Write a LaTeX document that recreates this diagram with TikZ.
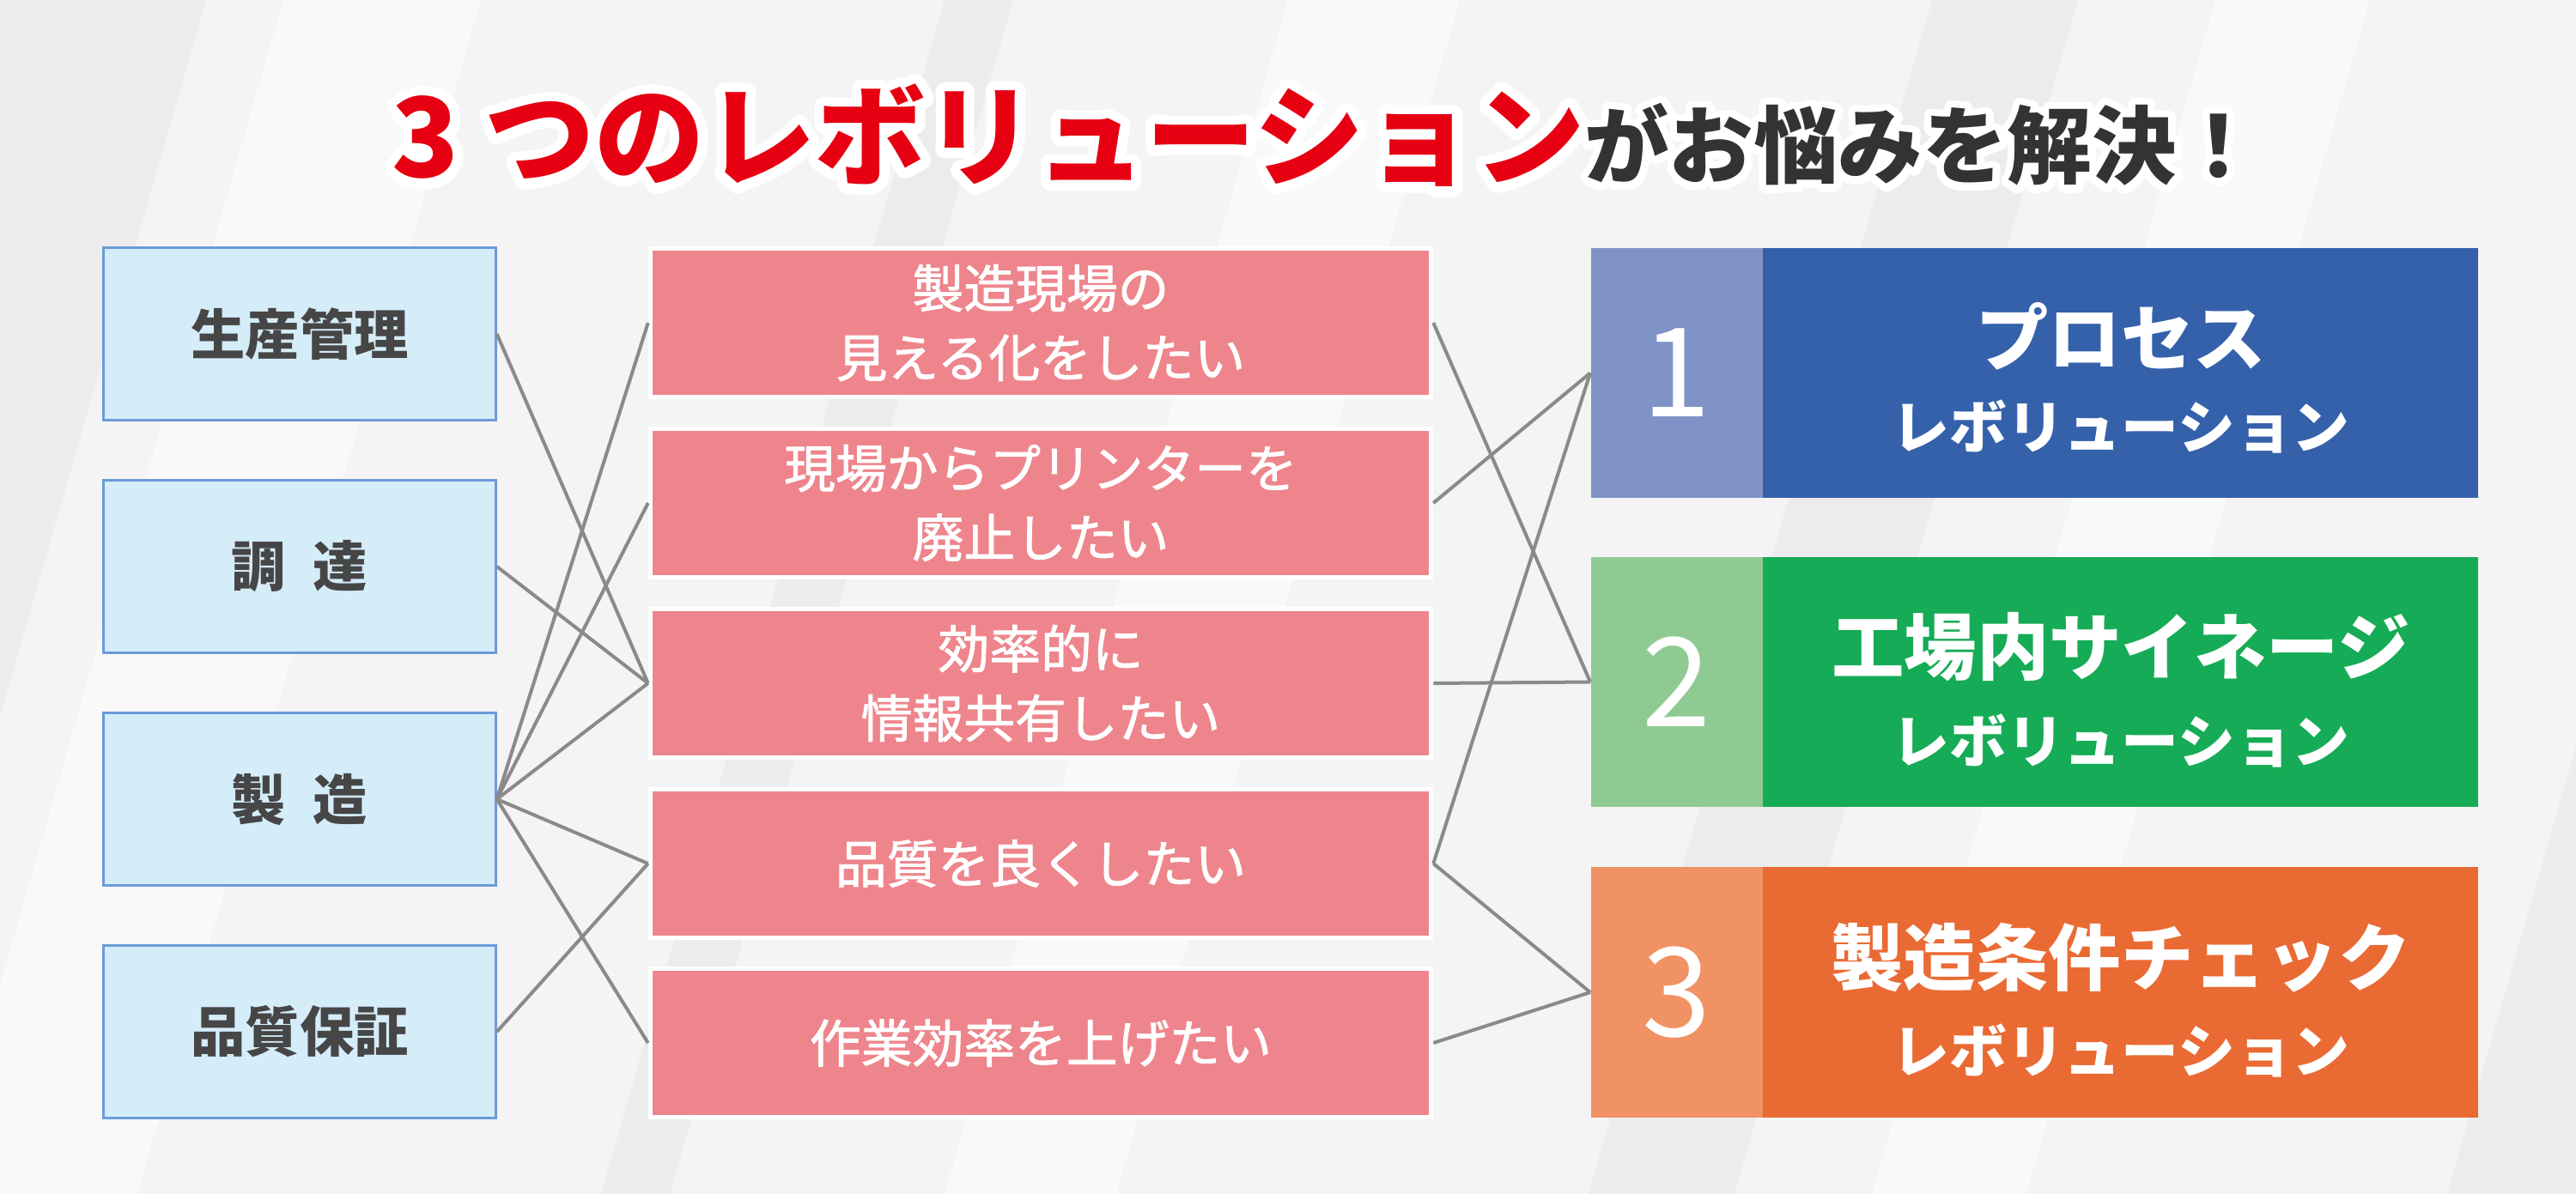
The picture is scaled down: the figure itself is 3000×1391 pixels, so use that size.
\documentclass[tikz,border=0pt]{standalone}
\usepackage{fontspec}
\setmainfont{Noto Sans CJK JP}
\newfontfamily\halofont{Noto Sans CJK JP}[BoldFeatures={FakeBold=18}]
\newfontfamily\wishfont{Noto Sans CJK JP}[FakeBold=1.5]
\usetikzlibrary{positioning}

\definecolor{titlered}{HTML}{E60012}
\definecolor{titledark}{HTML}{333333}
\definecolor{bggray}{HTML}{F4F4F4}
\definecolor{stripelt}{HTML}{F9F9F9}
\definecolor{stripedk}{HTML}{ECECEC}
\definecolor{deptfill}{HTML}{D5ECF9}
\definecolor{deptline}{HTML}{6A9BD8}
\definecolor{depttext}{HTML}{464646}
\definecolor{wishfill}{HTML}{EE858C}
\definecolor{linkgray}{HTML}{8A8A8A}
\definecolor{revblue}{HTML}{3561AB}
\definecolor{revbluelt}{HTML}{7F93C6}
\definecolor{revgreen}{HTML}{16AB56}
\definecolor{revgreenlt}{HTML}{8FCA93}
\definecolor{revorange}{HTML}{EA6A33}
\definecolor{revorangelt}{HTML}{F09263}

\newcommand\bannertext[2]{{\color{#1}3 つのレボリューション}{\color{#2}\fontsize{28pt}{30pt}\selectfont がお悩みを解決！}}

\tikzset{
  dept/.style={draw=deptline, line width=0.03cm, fill=deptfill, inner sep=0,
    minimum width=4.56cm, minimum height=2cm, text=depttext,
    font=\fontsize{18pt}{22pt}\selectfont\bfseries},
  wish/.style={draw=white, line width=0.05cm, fill=wishfill, inner sep=0,
    minimum width=9.09cm, minimum height=1.73cm, text=white, align=center,
    font=\fontsize{17pt}{23pt}\wishfont},
  rev/.style={inner sep=0, minimum width=10.33cm, minimum height=2.91cm},
  revnum/.style={inner sep=0, minimum width=2cm, minimum height=2.91cm,
    anchor=north west, text=white, font=\fontsize{41pt}{41pt}\selectfont},
  revhead/.style={text=white, font=\fontsize{24pt}{26pt}\selectfont\bfseries},
  revsub/.style={text=white, font=\fontsize{19pt}{21pt}\selectfont\bfseries},
  banner/.style={anchor=base, inner sep=0, font=\fontsize{36.5pt}{38pt}\selectfont\bfseries},
  link/.style={draw=linkgray, line width=0.04cm}
}

\begin{document}
\begin{tikzpicture}[x=0.01cm,y=-0.01cm]
\useasboundingbox (0,0) rectangle (3000,1391);

% background
\fill[bggray] (0,0) rectangle (3000,1391);
\fill[stripedk] (0,0) -- (240,0) -- (-160,1391) -- (0,1391) -- cycle;
\fill[stripelt] (330,0) -- (560,0) -- (160,1391) -- (-70,1391) -- cycle;
\fill[stripedk] (1100,0) -- (1180,0) -- (780,1391) -- (700,1391) -- cycle;
\fill[stripelt] (1500,0) -- (1700,0) -- (1300,1391) -- (1100,1391) -- cycle;
\fill[stripedk] (2250,0) -- (2420,0) -- (2020,1391) -- (1850,1391) -- cycle;
\fill[stripelt] (2580,0) -- (2760,0) -- (2360,1391) -- (2180,1391) -- cycle;
\fill[stripedk] (3000,0) -- (3250,0) -- (2850,1391) -- (3000,1391) -- cycle;

% title, white outline first
\node[banner, font=\fontsize{36.5pt}{38pt}\halofont\bfseries] (halo) at (1545,207)
  {\pgfsetroundjoin\bannertext{white}{white}};
\node[banner] (title) at (1545,207) {\bannertext{titlered}{titledark}};

% departments
\node[dept] (d1) at (349,389) {生産管理};
\node[dept] (d2) at (349,660) {調\hspace{0.5em}達};
\node[dept] (d3) at (349,931) {製\hspace{0.5em}造};
\node[dept] (d4) at (349,1202) {品質保証};

% wishes
\node[wish] (w1) at (1212,376) {製造現場の\\見える化をしたい};
\node[wish] (w2) at (1212,586) {現場からプリンターを\\廃止したい};
\node[wish] (w3) at (1212,796) {効率的に\\情報共有したい};
\node[wish] (w4) at (1212,1006) {品質を良くしたい};
\node[wish] (w5) at (1212,1215) {作業効率を上げたい};

% revolutions
\node[rev, fill=revblue] (r1) at (2369.5,434.5) {};
\node[revnum, fill=revbluelt] (n1) at (r1.north west) {1};
\node[revhead] (h1) at (2470,392) {プロセス};
\node[revsub] (s1) at (2470,497) {レボリューション};

\node[rev, fill=revgreen] (r2) at (2369.5,794.5) {};
\node[revnum, fill=revgreenlt] (n2) at (r2.north west) {2};
\node[revhead] (h2) at (2470,754) {工場内サイネージ};
\node[revsub] (s2) at (2470,863) {レボリューション};

\node[rev, fill=revorange] (r3) at (2369.5,1156) {};
\node[revnum, fill=revorangelt] (n3) at (r3.north west) {3};
\node[revhead] (h3) at (2470,1116) {製造条件チェック};
\node[revsub] (s3) at (2470,1224) {レボリューション};

% links left
\draw[link] (d1.east) -- (w3.west);
\draw[link] (d2.east) -- (w3.west);
\draw[link] (d3.east) -- (w1.west);
\draw[link] (d3.east) -- (w2.west);
\draw[link] (d3.east) -- (w3.west);
\draw[link] (d3.east) -- (w4.west);
\draw[link] (d3.east) -- (w5.west);
\draw[link] (d4.east) -- (w4.west);

% links right
\draw[link] (w1.east) -- (r2.west);
\draw[link] (w2.east) -- (r1.west);
\draw[link] (w3.east) -- (r2.west);
\draw[link] (w4.east) -- (r1.west);
\draw[link] (w4.east) -- (r3.west);
\draw[link] (w5.east) -- (r3.west);
\end{tikzpicture}
\end{document}
